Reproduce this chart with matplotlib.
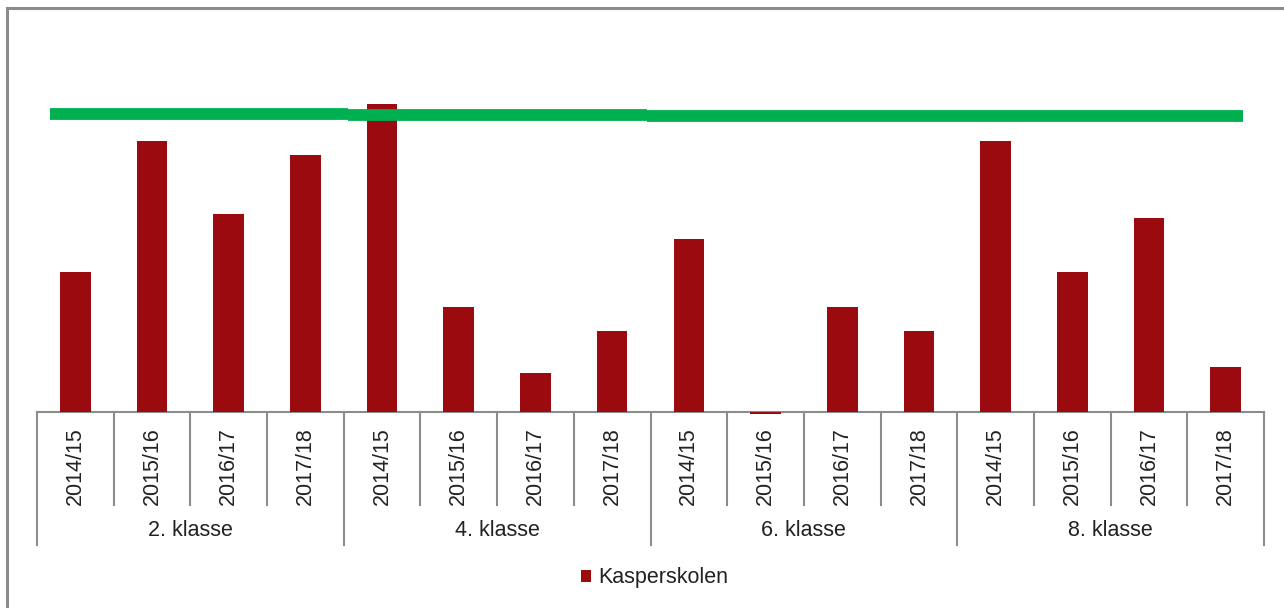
import matplotlib.pyplot as plt
import matplotlib.transforms as mtransforms
from matplotlib.patches import Patch

plt.rcParams['font.family'] = ['Liberation Sans', 'DejaVu Sans']

groups = ['2. klasse', '4. klasse', '6. klasse', '8. klasse']
years = ['2014/15', '2015/16', '2016/17', '2017/18']
values = [46.7, 90.3, 66.0, 85.7,
          102.7, 35.0, 13.0, 27.0,
          57.7, -0.7, 35.0, 27.0,
          90.3, 46.7, 64.7, 15.0]
target = [99.3, 99.0, 98.8, 98.7]

bar_col = '#9b0a0f'
green = '#00b050'
grey = '#8c8c8c'
txt = '#222222'
fs = 15.5

W, H = 1284, 608
fig = plt.figure(figsize=(W / 100, H / 100), dpi=100)

# outer frame (only top and left visible)
fig.add_artist(plt.Line2D([7 / W, 7 / W], [0, 1 - 8 / H], color=grey, lw=2.2))
fig.add_artist(plt.Line2D([7 / W, 1], [1 - 8 / H, 1 - 8 / H], color=grey, lw=2.2))

ax_l, ax_r, ax_b, ax_t = 37, 1264, 412, 30
ax = fig.add_axes([ax_l / W, 1 - ax_b / H, (ax_r - ax_l) / W, (ax_b - ax_t) / H])
n = len(values)
x = list(range(n))
ax.bar(x, values, width=0.4, color=bar_col, clip_on=False, zorder=3)

# green target segments, one per class
seg_start = -0.33
seg_w = 3.89
for i, t in enumerate(target):
    x0 = seg_start + i * seg_w
    ax.plot([x0, x0 + seg_w], [t, t], color=green, lw=8.5, solid_capstyle='butt', zorder=4)

ax.set_xlim(-0.5, n - 0.5)
ax.set_ylim(0, (ax_b - ax_t) / 3)
for s in ['top', 'right', 'left']:
    ax.spines[s].set_visible(False)
ax.spines['bottom'].set_color(grey)
ax.spines['bottom'].set_linewidth(1.5)
ax.set_xticks([])
ax.set_yticks([])

trans = mtransforms.blended_transform_factory(ax.transData, ax.transAxes)
ah = ax_b - ax_t
short = -(505 - ax_b) / ah
long_ = -(545 - ax_b) / ah
for k in range(n + 1):
    yb = long_ if k % 4 == 0 else short
    ax.plot([k - 0.5, k - 0.5], [0, yb], transform=trans, color=grey, lw=1.5, clip_on=False)

lab_y = -(466 - ax_b) / ah
for i in range(n):
    ax.text(i, lab_y, years[i % 4], transform=trans, rotation=90, ha='center', va='center',
            fontsize=fs, color=txt)

grp_y = -(531 - ax_b) / ah
for g, name in enumerate(groups):
    ax.text(g * 4 + 1.5, grp_y, name, transform=trans, ha='center', va='center',
            fontsize=fs, color=txt)

fig.legend(handles=[Patch(facecolor=bar_col)], labels=['Kasperskolen'], loc='center',
           bbox_to_anchor=(655 / W, 1 - 578 / H), frameon=False, fontsize=fs,
           handlelength=0.45, handleheight=0.45, handletextpad=0.35, labelcolor=txt)

fig.savefig('out.png', dpi=100, facecolor='white')
